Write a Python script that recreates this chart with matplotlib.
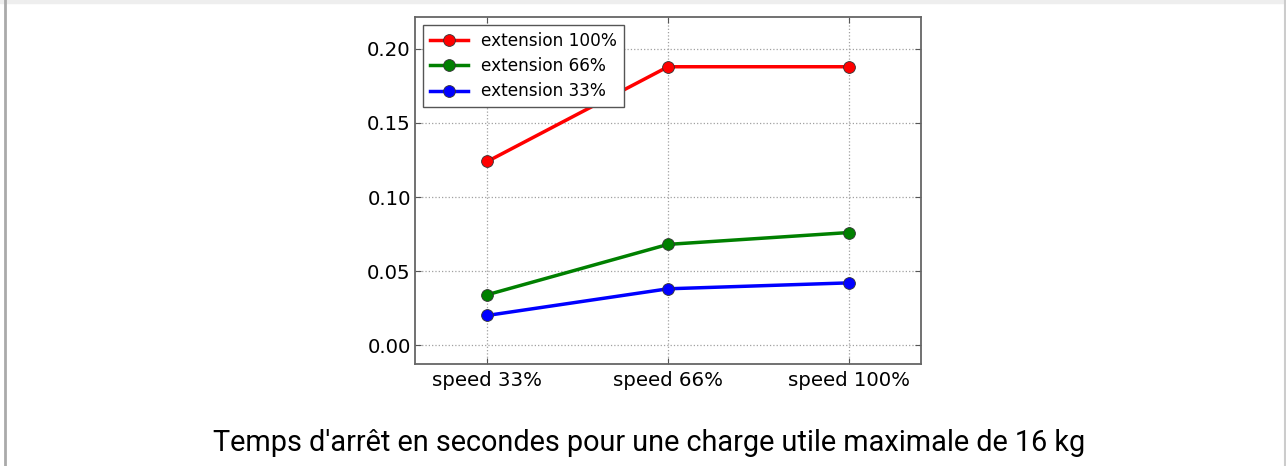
import matplotlib.pyplot as plt
from matplotlib.lines import Line2D
from matplotlib.patches import Rectangle

# temps d'arret (s), charge utile 16 kg
speeds = ['speed 33%', 'speed 66%', 'speed 100%']
ext_100 = [0.124, 0.188, 0.188]
ext_66 = [0.034, 0.068, 0.076]
ext_33 = [0.020, 0.038, 0.042]

fig = plt.figure(figsize=(12.86, 4.66), dpi=100)
ax = fig.add_axes([0.3227, 0.2189, 0.3935, 0.7446])

x = range(len(speeds))
style = dict(linewidth=2.5, marker='o', markersize=8.5, markeredgecolor='#333333', markeredgewidth=0.6)
ax.plot(x, ext_100, color='red', label='extension 100%', **style)
ax.plot(x, ext_66, color='green', label='extension 66%', **style)
ax.plot(x, ext_33, color='blue', label='extension 33%', **style)

ax.set_xlim(-0.4, 2.4)
ax.set_ylim(-0.0128, 0.2216)
ax.set_xticks(list(x))
ax.set_xticklabels(speeds)
ax.set_yticks([0.0, 0.05, 0.10, 0.15, 0.20])
ax.set_yticklabels(['0.00', '0.05', '0.10', '0.15', '0.20'])
ax.tick_params(direction='in', labelsize=14.2, length=4, color='#555555')
ax.tick_params(axis='x', pad=5)
ax.tick_params(axis='y', pad=3)
ax.tick_params(top=True, right=True)
ax.grid(True, linestyle=':', color='#a0a0a0', linewidth=0.9)
for s in ax.spines.values():
    s.set_color('#666666')
    s.set_linewidth(1.3)

leg = ax.legend(loc='upper left', fontsize=12.2, fancybox=False, framealpha=1,
                edgecolor='#555555', borderaxespad=0.5, handlelength=2.2,
                borderpad=0.4, labelspacing=0.42)
leg.get_frame().set_linewidth(1.0)

fig.text(0.505, 0.049, "Temps d'arrêt en secondes pour une charge utile maximale de 16 kg",
         ha='center', va='center', fontsize=20.8, family='Roboto')

# page frame
fig.add_artist(Line2D([0.0035, 0.0035], [0, 1], transform=fig.transFigure, color='#aaaaaa', linewidth=2))
fig.add_artist(Line2D([0.999, 0.999], [0, 1], transform=fig.transFigure, color='#cccccc', linewidth=1.5))
fig.add_artist(Rectangle((0, 0.993), 1, 0.007, transform=fig.transFigure, color='#eeeeee', zorder=0))

fig.savefig('out.png', dpi=100)
